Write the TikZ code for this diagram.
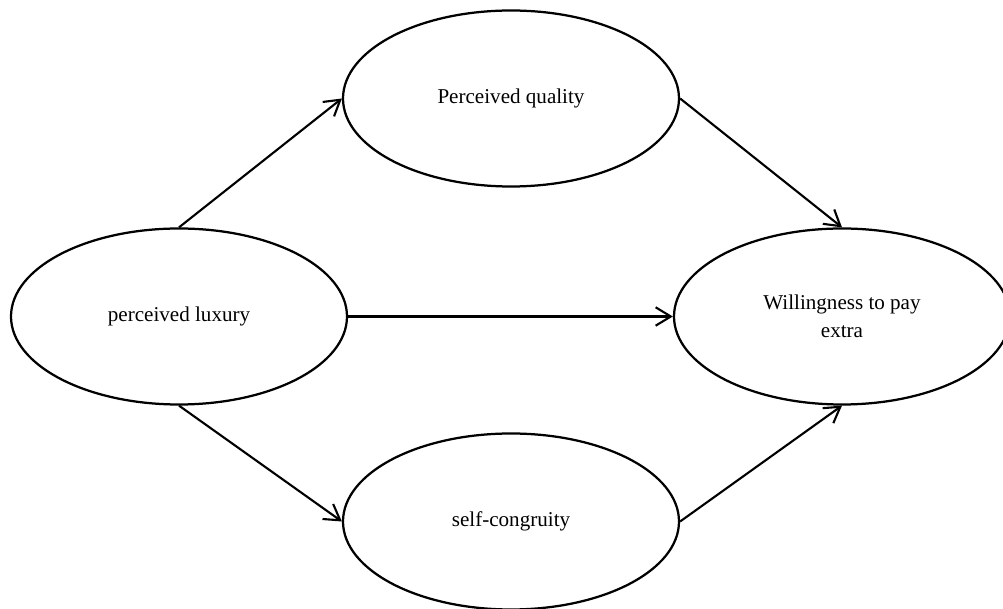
\documentclass[tikz,border=0pt]{standalone}
\usepackage{fontspec}
\setmainfont{Liberation Serif}
\usetikzlibrary{shapes.geometric, arrows.meta}
\begin{document}
\begin{tikzpicture}[
        construct/.style={ellipse, draw, line width=1.6pt, minimum width=8.4cm, minimum height=4.4cm,
            inner sep=0pt, align=center, font=\fontsize{15}{20}\selectfont},
        link/.style={draw, line width=1.5pt, -{Straight Barb[length=3.8mm, width=4.6mm]}}
    ]
    \useasboundingbox (0,0) rectangle (25.075,-15.225);
    \node[construct] (lux) at (4.475,-7.9125) {perceived luxury};
    \node[construct] (qual) at (12.775,-2.4625) {Perceived quality};
    \node[construct] (self) at (12.775,-13.0375) {self-congruity};
    \node[construct] (will) at (21.05,-7.9125) {Willingness to pay\\extra};
    \draw[link] (lux.north) -- (qual.west);
    \draw[link] (lux.east) -- (will.west);
    \draw[link] (lux.south) -- (self.west);
    \draw[link] (qual.east) -- (will.north);
    \draw[link] (self.east) -- (will.south);
\end{tikzpicture}
\end{document}
